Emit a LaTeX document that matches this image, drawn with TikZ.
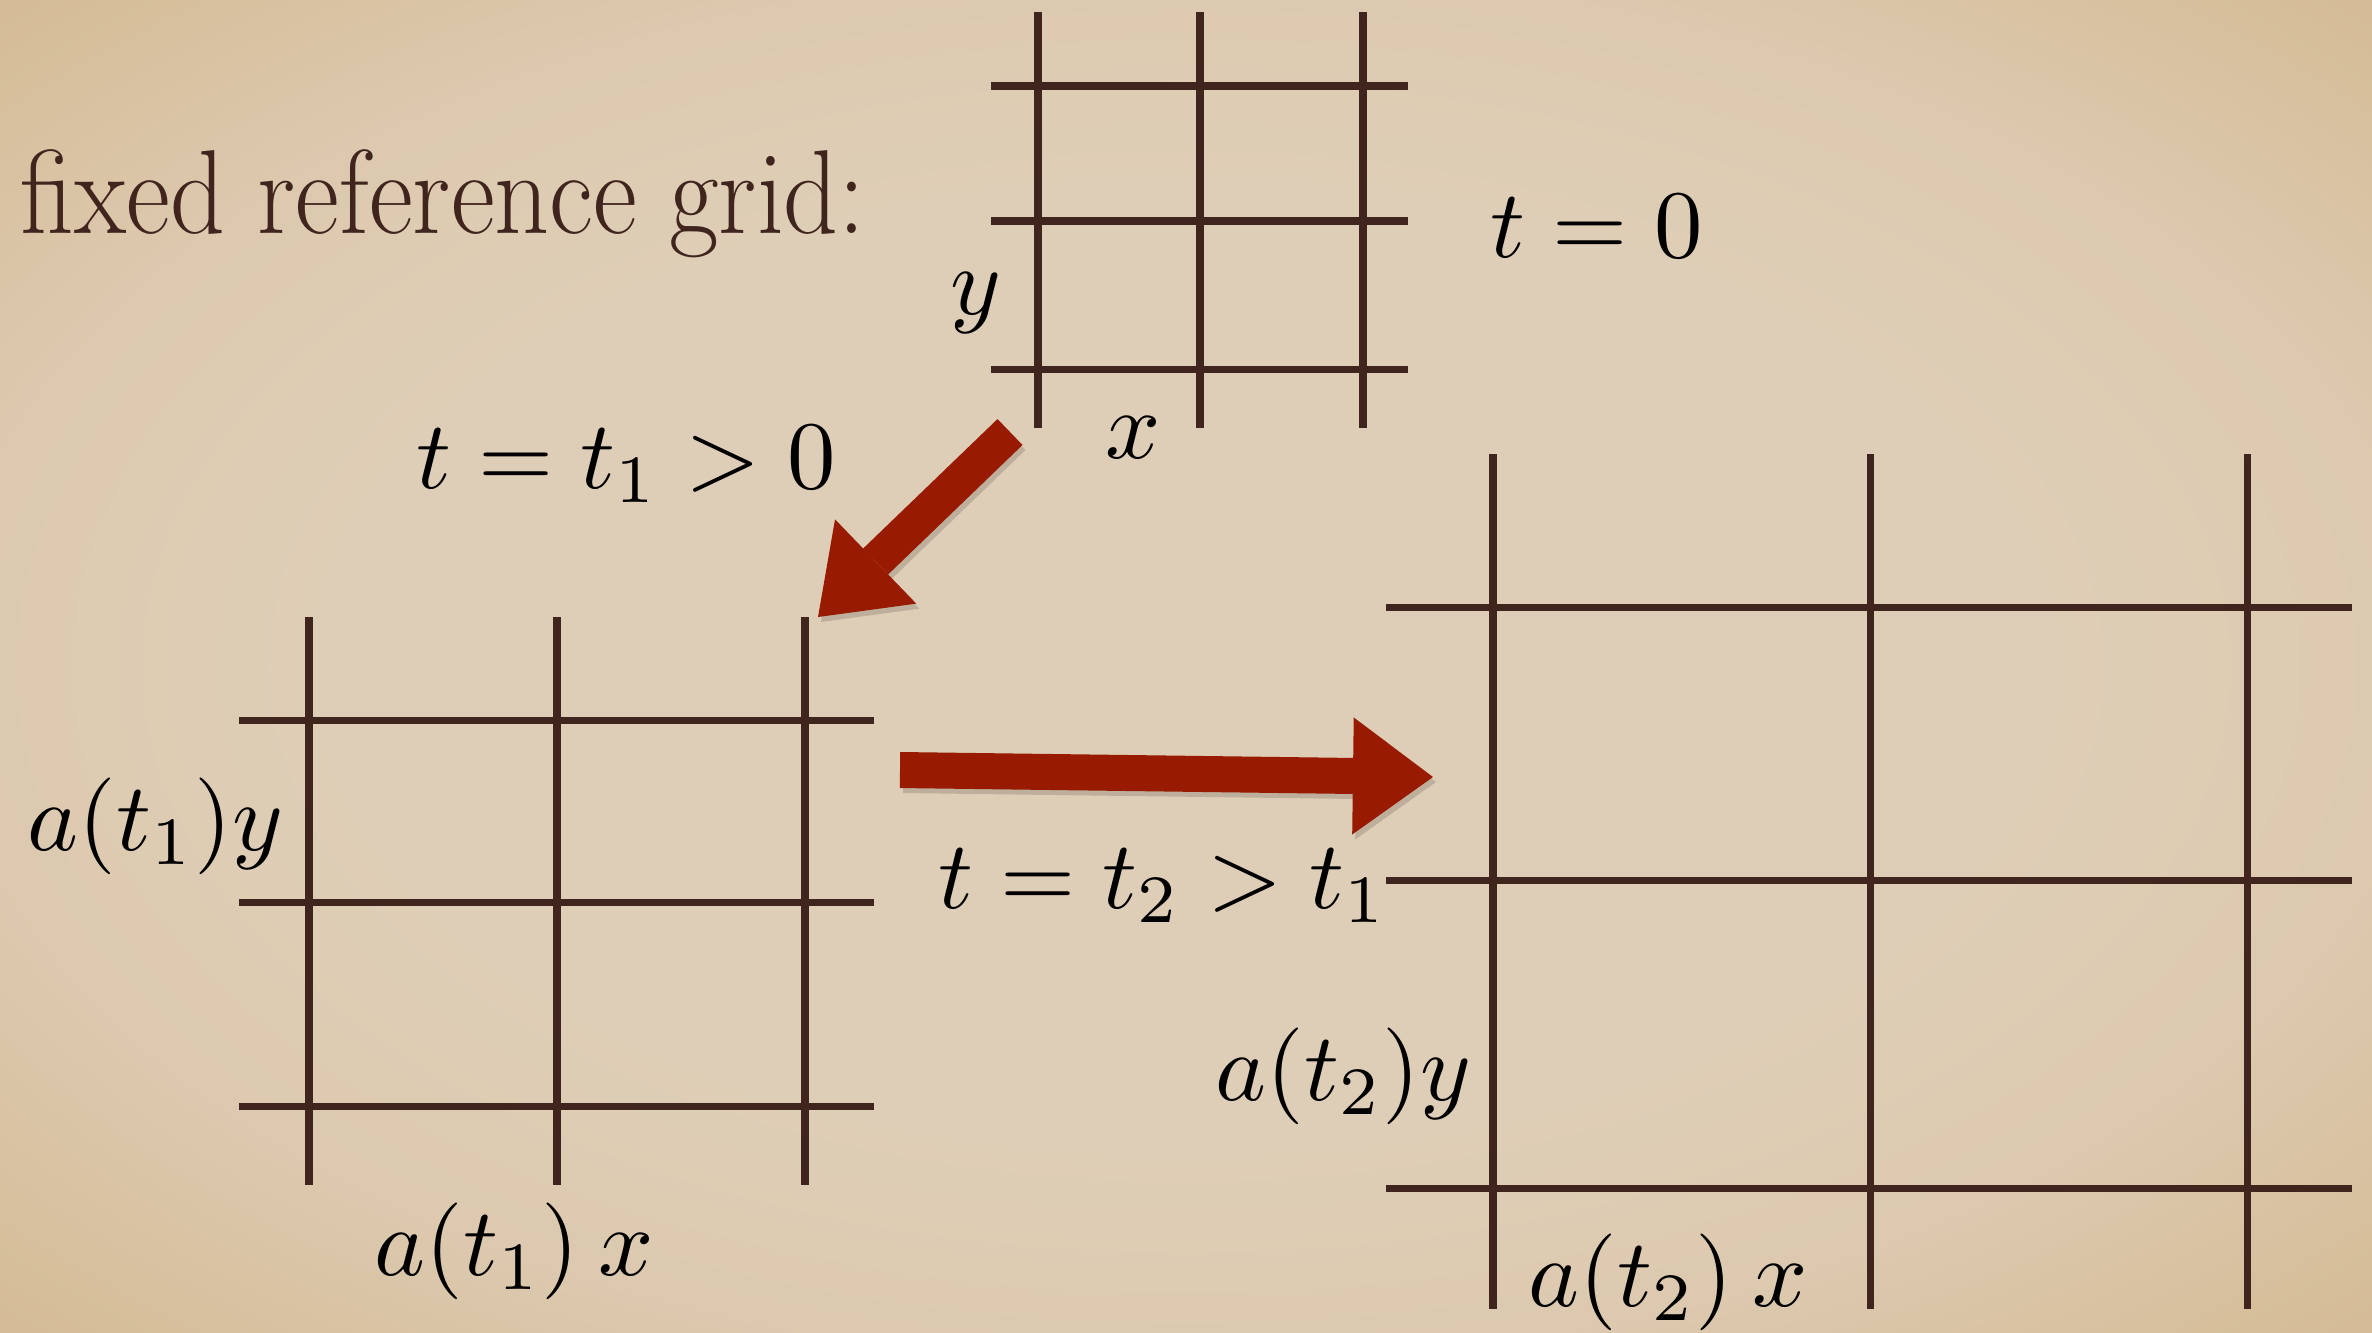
\documentclass[tikz,border=0pt]{standalone}
\usepackage{amsmath}
\usetikzlibrary{arrows.meta}
\definecolor{parchment}{RGB}{223,206,183}
\definecolor{parchmid}{RGB}{220,201,175}
\definecolor{parchdark}{RGB}{213,188,150}
\definecolor{gridbrown}{RGB}{64,36,30}
\definecolor{arrowred}{RGB}{152,26,0}
\pgfdeclareradialshading{parchshade}{\pgfpoint{0bp}{0bp}}{color(0bp)=(parchment); color(18bp)=(parchment); color(26bp)=(parchmid); color(35bp)=(parchdark); color(50bp)=(parchdark)}
\newcommand{\bigmath}[1]{\scalebox{2.75}{$#1$}}

\begin{document}
\begin{tikzpicture}[x=0.01cm,y=-0.01cm,
  gridline/.style={draw=gridbrown,line width=2pt},
  lab/.style={inner sep=0pt,anchor=base west},
  bigarrow/.style={draw=arrowred,line width=0.36cm,-{Triangle[length=0.8cm,width=1.17cm,line width=0pt]}}]
\useasboundingbox (0,0) rectangle (2372,1332);
\shade[shading=parchshade] (0,0) rectangle (2372,1332);

% fixed grid, t=0
\foreach \x in {1038,1200,1363} \draw[gridline] (\x,12) -- (\x,428);
\foreach \y in {86,221,369} \draw[gridline] (991,\y) -- (1408,\y);
% grid at t1
\foreach \x in {309,557,805} \draw[gridline] (\x,617) -- (\x,1185);
\foreach \y in {720,902,1106} \draw[gridline] (239,\y) -- (874,\y);
% grid at t2
\foreach \x in {1493,1870,2247} \draw[gridline] (\x,454) -- (\x,1309);
\foreach \y in {607,880,1188} \draw[gridline] (1386,\y) -- (2352,\y);

\node[lab,font=\fontsize{34}{40}\selectfont,text=gridbrown] (fixedlab) at (20,233) {\scalebox{0.9}[1]{fixed reference grid:}};
\node[lab] (tzero) at (1490,257) {\bigmath{t=0}};
\node[lab] (ylab) at (950,314) {\bigmath{y}};
\node[lab] (xlab) at (1105,458) {\bigmath{x}};
\node[lab] (tone) at (416,488) {\bigmath{t=t_1>0}};
\node[lab] (aoney) at (27,850) {\bigmath{a(t_1)y}};
\node[lab] (aonex) at (374,1275) {\bigmath{a(t_1)\mskip3.5mu x}};
\node[lab] (ttwo) at (938,908) {\bigmath{t=t_2>t_1}};
\node[lab] (atwoy) at (1215,1100) {\bigmath{a(t_2)y}};
\node[lab] (atwox) at (1528,1306) {\bigmath{a(t_2)\mskip3.5mu x}};

% arrows between the grids
\coordinate (d0) at (1010,432);
\coordinate (d1) at (818,617);
\coordinate (h0) at (900,770);
\coordinate (h1) at (1433,777);
\begin{scope}[transform canvas={shift={(3,5)}}]
\draw[bigarrow,draw=black,opacity=0.15] (d0) -- (d1);
\draw[bigarrow,draw=black,opacity=0.15] (h0) -- (h1);
\end{scope}
\draw[bigarrow] (d0) -- (d1);
\draw[bigarrow] (h0) -- (h1);
\end{tikzpicture}
\end{document}
